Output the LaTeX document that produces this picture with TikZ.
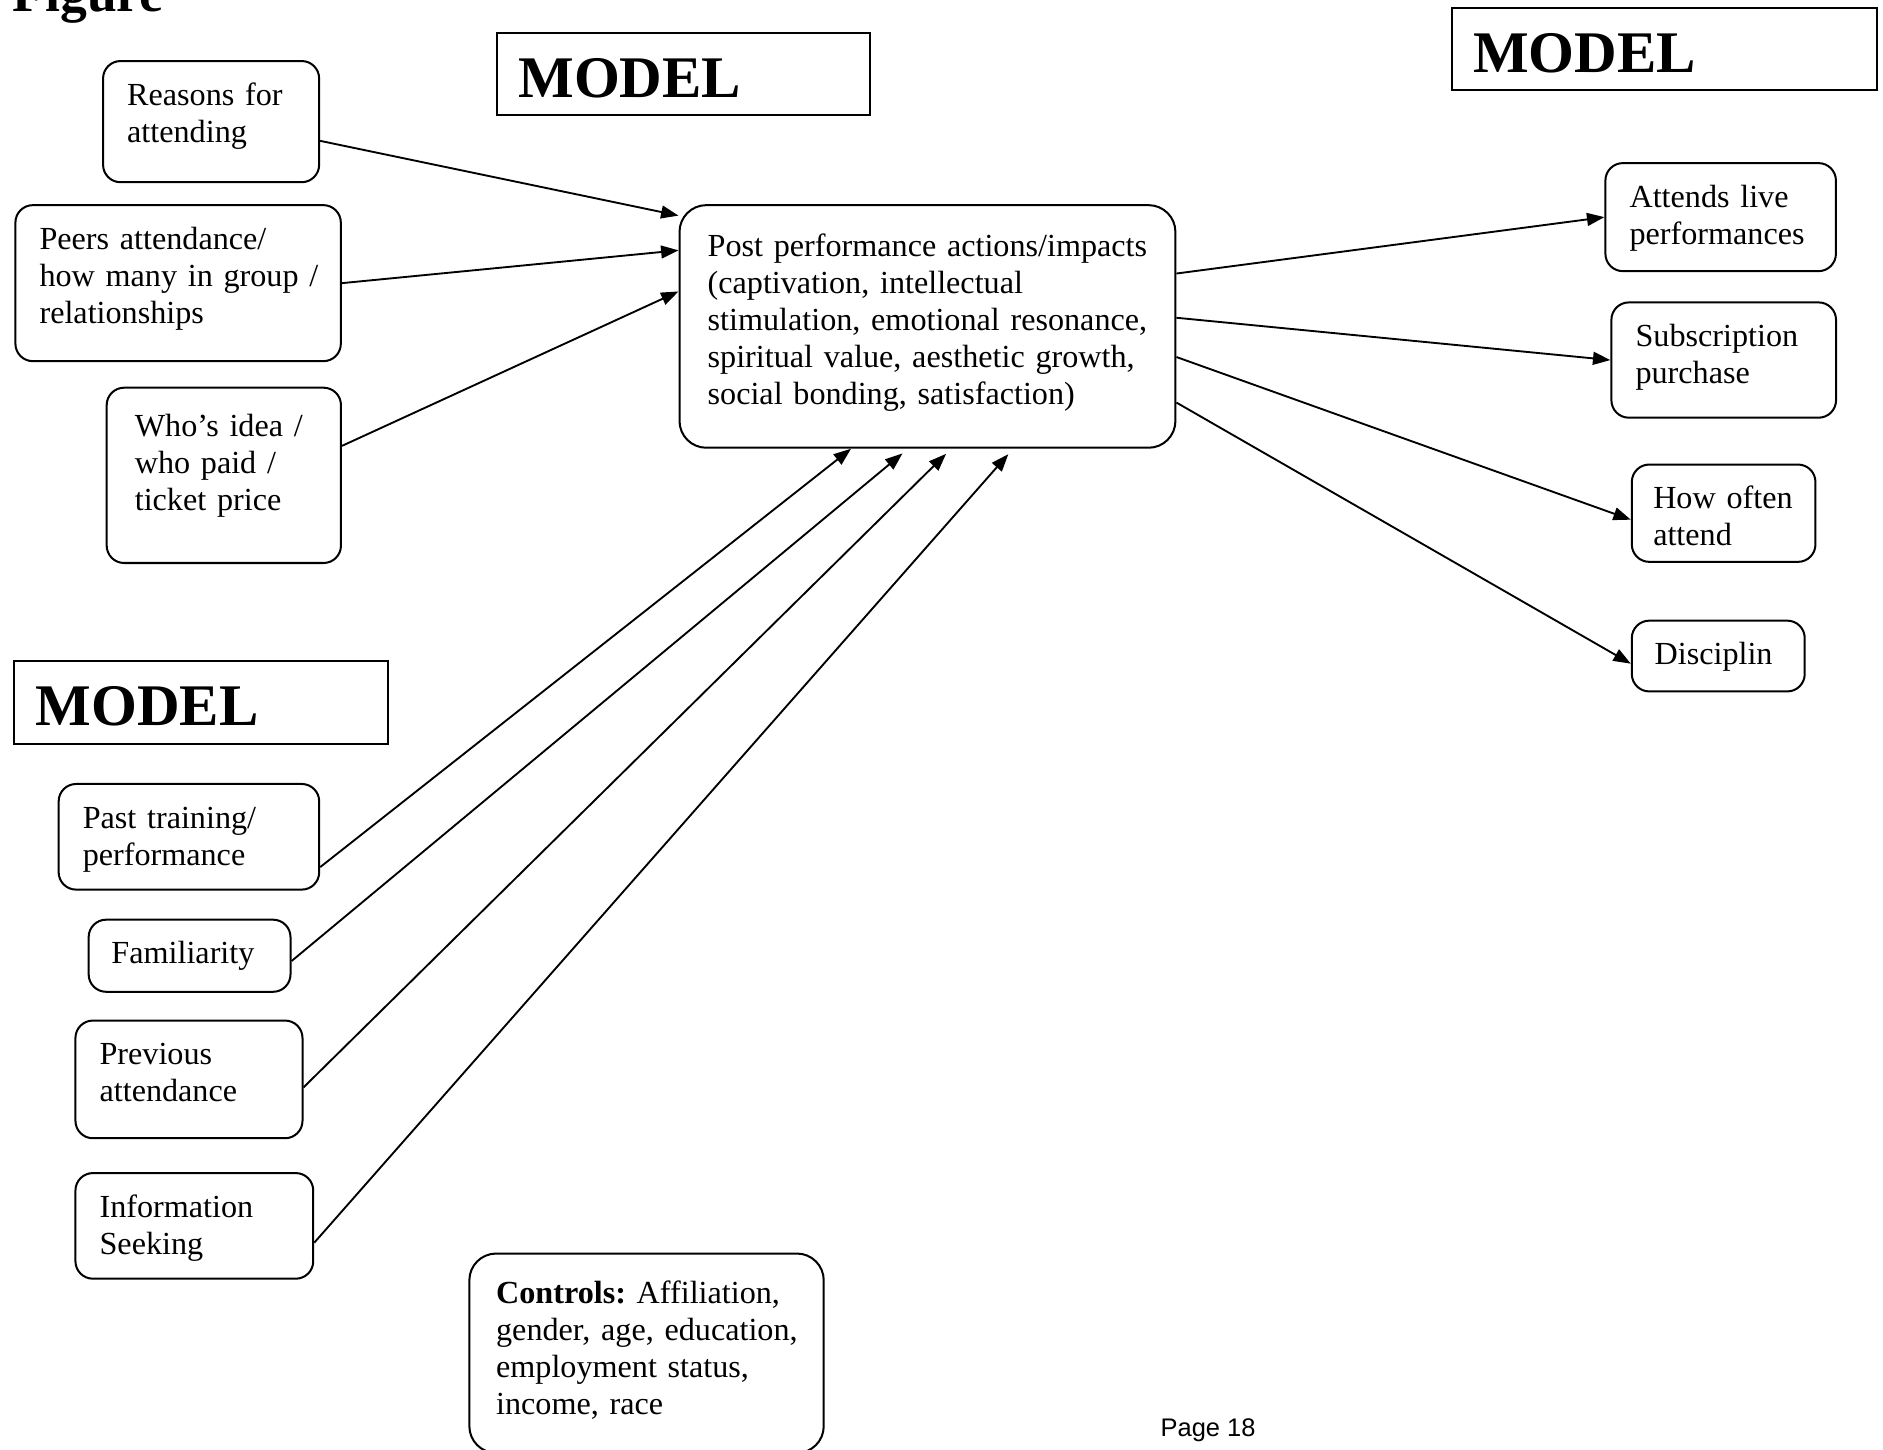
\documentclass[tikz,border=0pt]{standalone}
\usepackage{fontspec}
\setmainfont{Liberation Serif}
\setsansfont{Liberation Sans}
\usetikzlibrary{arrows.meta}

\begin{document}
\begin{tikzpicture}[x=0.448pt, y=-0.448pt]
    \tikzset{
        stage/.style 2 args={draw, line width=0.75pt, rounded corners=6.5pt, anchor=north west,
            align=left, inner xsep=9pt, inner ysep=7.5pt, text width=#1,
            text height=9pt, text depth={#2-24pt}, font=\fontsize{12}{13.8}\selectfont\frenchspacing},
        model/.style={draw, line width=0.75pt, anchor=north west, align=left,
            inner xsep=8pt, inner ysep=0pt, text width=#1, text height=24pt, text depth=6.5pt,
            font=\fontsize{22}{26}\bfseries\selectfont},
        arr/.style={line width=0.7pt, -{Triangle[length=6.5pt, width=4.8pt]}},
    }
    \useasboundingbox (0,0) rectangle (1568,1207);

    \node[anchor=base west, inner sep=0pt, font=\fontsize{20}{24}\bfseries\selectfont] (figtitle) at (10,9.7) {Figure};

    %% model labels
    \node[model=123.3pt] (modelA) at (413,27) {MODEL};
    \node[model=142.6pt] (modelB) at (1208,6) {MODEL};
    \node[model=123.3pt, text depth=6.9pt] (modelC) at (11,550) {MODEL};

    %% inputs, upper left
    \node[stage={62.6pt}{45.2pt}] (reasons) at (85,50) {Reasons for\\attending};
    \node[stage={103.4pt}{58.2pt}] (peers) at (12,170) {Peers attendance/\\\mbox{how many in group /}\\relationships};
    \node[stage={66.4pt}{65.4pt}, inner xsep=10.5pt, text height=10.8pt, text depth=39.6pt] (whos) at (88,322) {Who’s idea /\\who paid /\\ticket price};

    %% central box
    \node[stage={164pt}{90.5pt}, rounded corners=10pt, inner xsep=10.5pt, inner ysep=10pt, text depth=61.5pt] (post) at (565,170)
        {Post performance actions/impacts\\(captivation, intellectual\\\mbox{stimulation, emotional resonance,}\\spiritual value, aesthetic growth,\\social bonding, satisfaction)};

    %% outcomes
    \node[stage={68pt}{40.3pt}] (attends) at (1336,135) {Attends live\\performances};
    \node[stage={65.8pt}{43pt}] (subscr) at (1341,251) {Subscription\\purchase};
    \node[stage={52.5pt}{36.3pt}, inner xsep=8pt] (often) at (1358,386) {How often\\attend};
    \node[stage={47.5pt}{26.4pt}, inner xsep=8.5pt] (discip) at (1358,516) {Disciplin};

    %% inputs, lower left
    \node[stage={79.2pt}{39.4pt}] (past) at (48,652) {Past training/\\performance};
    \node[stage={58.3pt}{26.9pt}, inner xsep=8.5pt] (famil) at (73,765) {Familiarity};
    \node[stage={66.7pt}{43.9pt}] (prev) at (62,849) {Previous\\attendance};
    \node[stage={70.7pt}{39.4pt}] (info) at (62,976) {Information\\Seeking};

    \node[stage={112.2pt}{74.4pt}, rounded corners=10pt, inner xsep=10pt, text height=11pt, text depth=48.4pt] (controls) at (390,1043)
        {\textbf{Controls:} Affiliation,\\\mbox{gender, age, education,}\\employment status,\\income, race};

    \node[anchor=base, inner sep=0pt, font=\fontsize{9.5}{11}\sffamily\selectfont] (pagenum) at (1006,1196.5) {Page 18};

    %% arrows into the central box
    \foreach \src/\dst in {reasons.-10/post.156, peers.east/post.163, whos.14/post.172, past.-13.5/post.-122.7}
        \draw[arr] (\src) -- (\dst);
    \foreach \src/\dst in {famil.-3.4/post.-99.2, prev.-4.2/post.-79, info.-8.6/post.-55}
        \draw[arr, shorten >=2.7pt] (\src) -- (\dst);

    %% arrows out
    \foreach \src/\dst in {post.12/attends.west, post.2.2/subscr.west, post.-7.2/often.184, post.-17.2/discip.185}
        \draw[arr] (\src) -- (\dst);
\end{tikzpicture}
\end{document}
